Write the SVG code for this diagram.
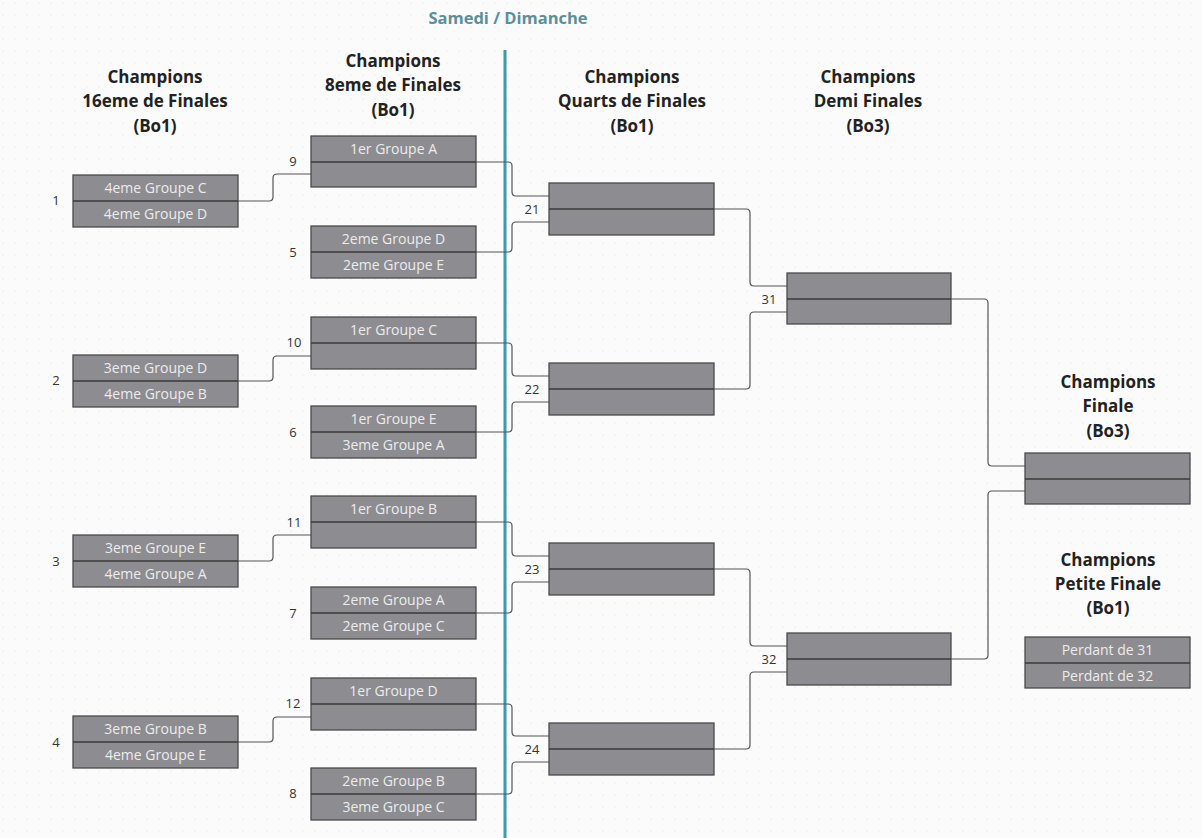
<svg xmlns="http://www.w3.org/2000/svg" width="1202" height="838" viewBox="0 0 1202 838">
<defs>
<pattern id="bg" width="12" height="12" patternUnits="userSpaceOnUse">
<rect width="12" height="12" fill="#fbfbfb"/>
<circle cx="3" cy="3" r="0.8" fill="#ececec"/>
</pattern>
<style>
.box{fill:#8d8c91;stroke:#4a4a4a;stroke-width:1.3}
.div{stroke:#3a3a3a;stroke-width:1.3}
.bt{font-family:"Open Sans","Liberation Sans",sans-serif;font-size:14px;fill:#ececec;text-anchor:middle}
.hd{font-family:"Open Sans","Liberation Sans",sans-serif;font-size:17px;font-weight:bold;fill:#222;text-anchor:middle}
.num{font-family:"Open Sans","Liberation Sans",sans-serif;font-size:13px;fill:#333;text-anchor:middle}
.con{fill:none;stroke:#555;stroke-width:1.2}
</style>
</defs>
<rect width="1202" height="838" fill="url(#bg)"/>
<text x="508" y="24" font-family="'Open Sans','Liberation Sans',sans-serif" font-size="16.5" font-weight="bold" fill="#5b8f9b" text-anchor="middle">Samedi / Dimanche</text>
<line x1="505" y1="50" x2="505" y2="838" stroke="#3f9aac" stroke-width="3"/>

<g id="headers">
<text class="hd" x="155" y="83">Champions</text><text class="hd" x="155" y="107">16eme de Finales</text><text class="hd" x="155" y="132">(Bo1)</text>
<text class="hd" x="393" y="67">Champions</text><text class="hd" x="393" y="91">8eme de Finales</text><text class="hd" x="393" y="116">(Bo1)</text>
<text class="hd" x="632" y="83">Champions</text><text class="hd" x="632" y="107">Quarts de Finales</text><text class="hd" x="632" y="132">(Bo1)</text>
<text class="hd" x="868" y="83">Champions</text><text class="hd" x="868" y="107">Demi Finales</text><text class="hd" x="868" y="132">(Bo3)</text>
<text class="hd" x="1108" y="388">Champions</text><text class="hd" x="1108" y="412">Finale</text><text class="hd" x="1108" y="437">(Bo3)</text>
<text class="hd" x="1108" y="566">Champions</text><text class="hd" x="1108" y="590">Petite Finale</text><text class="hd" x="1108" y="614">(Bo1)</text>
</g>

<g id="connectors">
<path class="con" d="M238,201 H269 Q273,201 273,197 V178 Q273,174 277,174 H311"/>
<path class="con" d="M238,381 H269 Q273,381 273,377 V360 Q273,356 277,356 H311"/>
<path class="con" d="M238,561 H269 Q273,561 273,557 V539 Q273,535 277,535 H311"/>
<path class="con" d="M238,742 H269 Q273,742 273,738 V721 Q273,717 277,717 H311"/>

<path class="con" d="M476,162 H508 Q512,162 512,166 V192 Q512,196 516,196 H549"/>
<path class="con" d="M476,252 H508 Q512,252 512,248 V226 Q512,222 516,222 H549"/>
<path class="con" d="M476,343 H508 Q512,343 512,347 V372 Q512,376 516,376 H549"/>
<path class="con" d="M476,432 H508 Q512,432 512,428 V406 Q512,402 516,402 H549"/>
<path class="con" d="M476,522 H508 Q512,522 512,526 V552 Q512,556 516,556 H549"/>
<path class="con" d="M476,613 H508 Q512,613 512,609 V586 Q512,582 516,582 H549"/>
<path class="con" d="M476,704 H508 Q512,704 512,708 V732 Q512,736 516,736 H549"/>
<path class="con" d="M476,794 H508 Q512,794 512,790 V766 Q512,762 516,762 H549"/>

<path class="con" d="M714,209 H746 Q750,209 750,213 V282 Q750,286 754,286 H787"/>
<path class="con" d="M714,389 H746 Q750,389 750,385 V316 Q750,312 754,312 H787"/>
<path class="con" d="M714,569 H746 Q750,569 750,573 V642 Q750,646 754,646 H787"/>
<path class="con" d="M714,749 H746 Q750,749 750,745 V676 Q750,672 754,672 H787"/>

<path class="con" d="M951,299 H984 Q988,299 988,303 V462 Q988,466 992,466 H1025"/>
<path class="con" d="M951,659 H984 Q988,659 988,655 V495 Q988,491 992,491 H1025"/>
</g>

<g id="r1-1"><rect class="box" x="73" y="175" width="165" height="52"/><line class="div" x1="73" y1="201" x2="238" y2="201"/><text class="bt" x="155.5" y="193">4eme Groupe C</text><text class="bt" x="155.5" y="219">4eme Groupe D</text><text class="num" x="56" y="205">1</text></g>
<g id="r1-2"><rect class="box" x="73" y="355" width="165" height="52"/><line class="div" x1="73" y1="381" x2="238" y2="381"/><text class="bt" x="155.5" y="373">3eme Groupe D</text><text class="bt" x="155.5" y="399">4eme Groupe B</text><text class="num" x="56" y="385">2</text></g>
<g id="r1-3"><rect class="box" x="73" y="535" width="165" height="52"/><line class="div" x1="73" y1="561" x2="238" y2="561"/><text class="bt" x="155.5" y="553">3eme Groupe E</text><text class="bt" x="155.5" y="579">4eme Groupe A</text><text class="num" x="56" y="566">3</text></g>
<g id="r1-4"><rect class="box" x="73" y="716" width="165" height="52"/><line class="div" x1="73" y1="742" x2="238" y2="742"/><text class="bt" x="155.5" y="734">3eme Groupe B</text><text class="bt" x="155.5" y="760">4eme Groupe E</text><text class="num" x="56" y="747">4</text></g>

<g id="r2-9"><rect class="box" x="311" y="136" width="165" height="51"/><line class="div" x1="311" y1="162" x2="476" y2="162"/><text class="bt" x="393.5" y="154">1er Groupe A</text><text class="num" x="293" y="166">9</text></g>
<g id="r2-5"><rect class="box" x="311" y="226" width="165" height="52"/><line class="div" x1="311" y1="252" x2="476" y2="252"/><text class="bt" x="393.5" y="244">2eme Groupe D</text><text class="bt" x="393.5" y="270">2eme Groupe E</text><text class="num" x="293" y="257">5</text></g>
<g id="r2-10"><rect class="box" x="311" y="317" width="165" height="52"/><line class="div" x1="311" y1="343" x2="476" y2="343"/><text class="bt" x="393.5" y="335">1er Groupe C</text><text class="num" x="294" y="347">10</text></g>
<g id="r2-6"><rect class="box" x="311" y="406" width="165" height="52"/><line class="div" x1="311" y1="432" x2="476" y2="432"/><text class="bt" x="393.5" y="424">1er Groupe E</text><text class="bt" x="393.5" y="450">3eme Groupe A</text><text class="num" x="293" y="437">6</text></g>
<g id="r2-11"><rect class="box" x="311" y="496" width="165" height="52"/><line class="div" x1="311" y1="522" x2="476" y2="522"/><text class="bt" x="393.5" y="514">1er Groupe B</text><text class="num" x="294" y="527">11</text></g>
<g id="r2-7"><rect class="box" x="311" y="587" width="165" height="52"/><line class="div" x1="311" y1="613" x2="476" y2="613"/><text class="bt" x="393.5" y="605">2eme Groupe A</text><text class="bt" x="393.5" y="631">2eme Groupe C</text><text class="num" x="293" y="618">7</text></g>
<g id="r2-12"><rect class="box" x="311" y="678" width="165" height="52"/><line class="div" x1="311" y1="704" x2="476" y2="704"/><text class="bt" x="393.5" y="696">1er Groupe D</text><text class="num" x="293" y="708">12</text></g>
<g id="r2-8"><rect class="box" x="311" y="768" width="165" height="52"/><line class="div" x1="311" y1="794" x2="476" y2="794"/><text class="bt" x="393.5" y="786">2eme Groupe B</text><text class="bt" x="393.5" y="812">3eme Groupe C</text><text class="num" x="293" y="798">8</text></g>

<g id="r3-21"><rect class="box" x="549" y="183" width="165" height="52"/><line class="div" x1="549" y1="209" x2="714" y2="209"/><text class="num" x="532" y="214">21</text></g>
<g id="r3-22"><rect class="box" x="549" y="363" width="165" height="52"/><line class="div" x1="549" y1="389" x2="714" y2="389"/><text class="num" x="532" y="394">22</text></g>
<g id="r3-23"><rect class="box" x="549" y="543" width="165" height="52"/><line class="div" x1="549" y1="569" x2="714" y2="569"/><text class="num" x="532" y="574">23</text></g>
<g id="r3-24"><rect class="box" x="549" y="723" width="165" height="52"/><line class="div" x1="549" y1="749" x2="714" y2="749"/><text class="num" x="532" y="754">24</text></g>

<g id="r4-31"><rect class="box" x="787" y="273" width="164" height="51"/><line class="div" x1="787" y1="299" x2="951" y2="299"/><text class="num" x="769" y="304">31</text></g>
<g id="r4-32"><rect class="box" x="787" y="633" width="164" height="52"/><line class="div" x1="787" y1="659" x2="951" y2="659"/><text class="num" x="769" y="664">32</text></g>

<g id="finale"><rect class="box" x="1025" y="453" width="165" height="51"/><line class="div" x1="1025" y1="479" x2="1190" y2="479"/></g>
<g id="petite-finale"><rect class="box" x="1025" y="637" width="165" height="51"/><line class="div" x1="1025" y1="663" x2="1190" y2="663"/><text class="bt" x="1107.5" y="655">Perdant de 31</text><text class="bt" x="1107.5" y="681">Perdant de 32</text></g>
</svg>
